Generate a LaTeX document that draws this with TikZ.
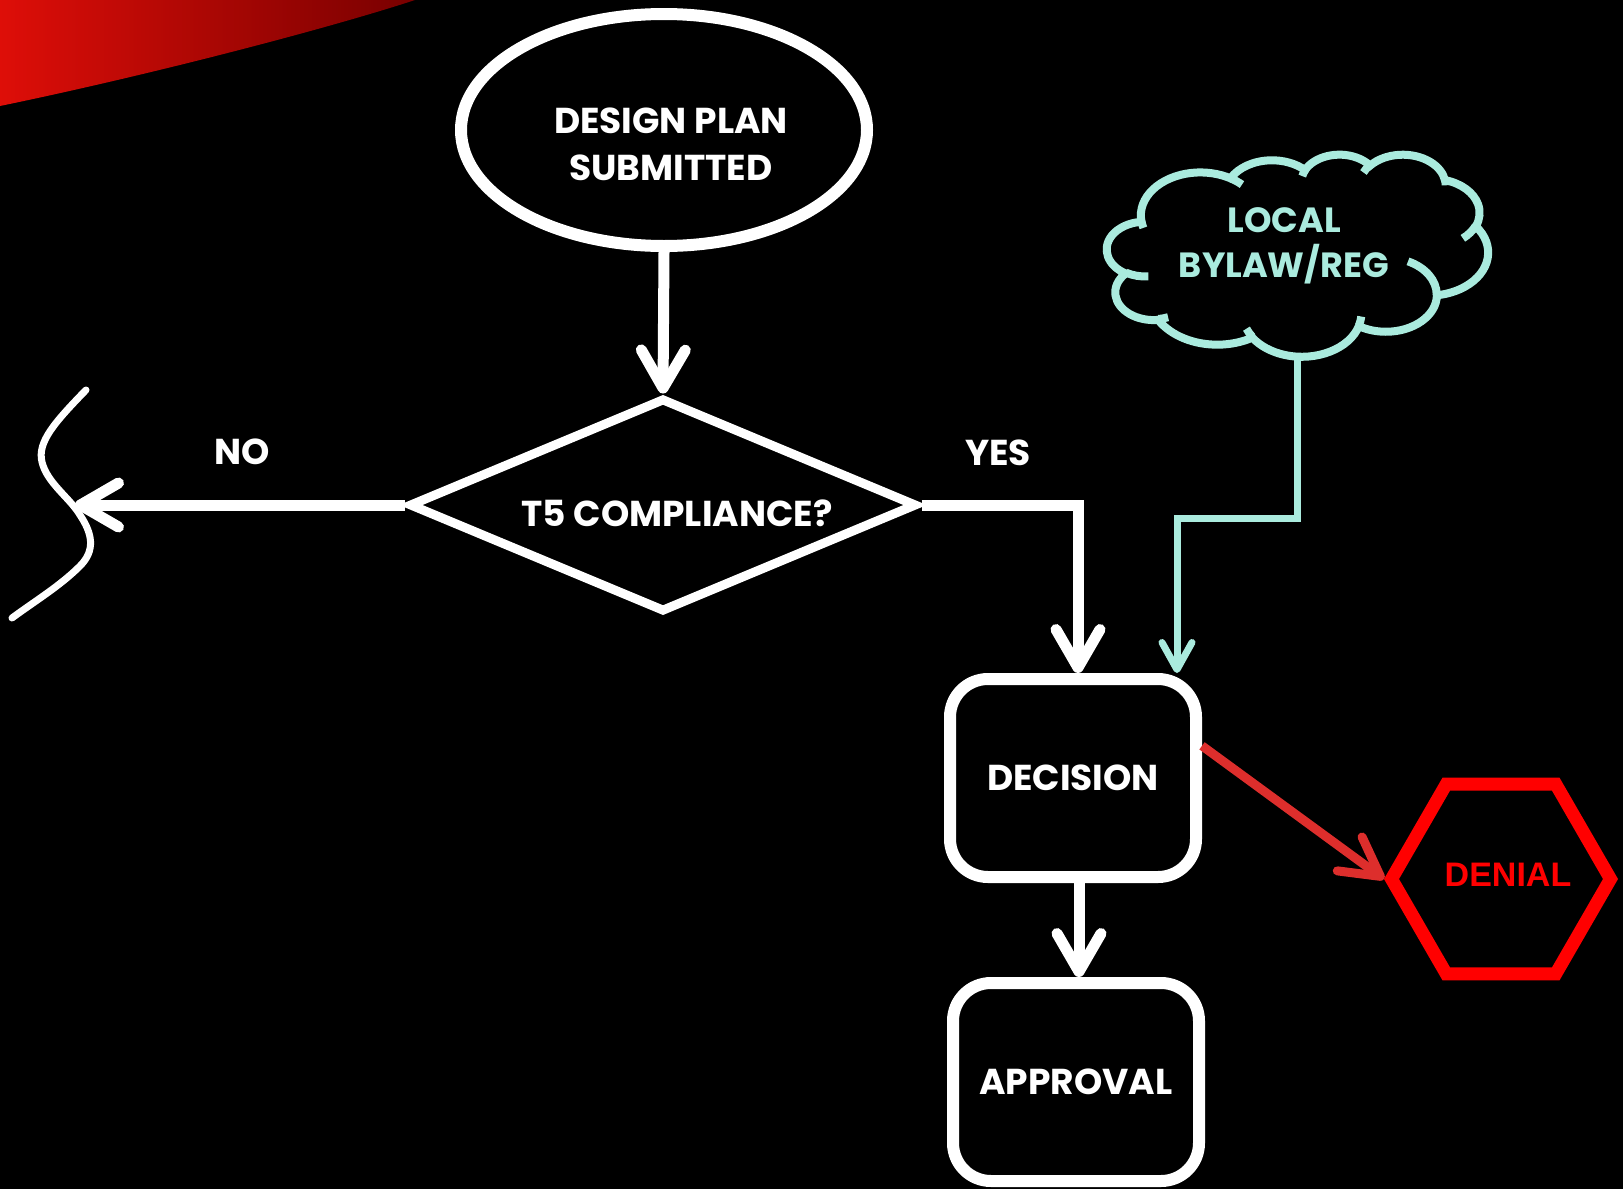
\documentclass[tikz,border=0pt]{standalone}
\usepackage{fontspec}
\setmainfont{Poppins}
\newfontfamily\denialfont{Liberation Sans}
\usetikzlibrary{arrows.meta,shapes.geometric,calc}

\definecolor{lawteal}{RGB}{170,235,222}
\definecolor{denyred}{RGB}{221,46,44}
\definecolor{hexred}{RGB}{255,0,0}
\definecolor{swooshA}{RGB}{222,14,8}
\definecolor{swooshB}{RGB}{120,0,0}

\tikzset{
  lbl/.style={text=white, inner sep=0pt, align=center, font=\bfseries\fontsize{36}{47}\selectfont},
  startshape/.style={ellipse, draw=white, line width=12pt, minimum width=406pt, minimum height=232pt, inner sep=0pt},
  decshape/.style={diamond, draw=white, line width=9pt, minimum width=508pt, minimum height=214pt, inner sep=0pt},
  boxshape/.style={rectangle, draw=white, line width=12pt, rounded corners=38pt, minimum width=246pt, minimum height=198pt, inner sep=0pt, text=white, font=\bfseries\fontsize{36}{47}\selectfont},
  hexshape/.style={regular polygon, regular polygon sides=6, draw=hexred, line width=13pt, minimum size=219pt, inner sep=0pt},
  flow/.style={draw=white, line width=11pt, -{Straight Barb[length=38pt, width=44pt, round]}},
  lawflow/.style={draw=lawteal, line width=7pt, -{Straight Barb[length=27pt, width=30pt, round]}},
  denyflow/.style={draw=denyred, line width=9pt, -{Straight Barb[length=38pt, width=42pt, round]}},
  cloudline/.style={draw=lawteal, line width=8pt},
}

\begin{document}
\begin{tikzpicture}[x=1pt, y=-1pt]
% canvas
\fill[black] (0,0) rectangle (1623,1189);
\useasboundingbox (0,0) rectangle (1623,1189);

% red swoosh in the corner
\shade[left color=swooshA, right color=swooshB]
  (0,0) -- (415,0) .. controls (330,28) and (150,75) .. (0,106) -- cycle;

% shapes
\node[startshape] (start) at (664,130) {};
\node[lbl] (start-t) at (671,144) {DESIGN PLAN\\SUBMITTED};

\node[decshape] (dia) at (663,505) {};
\node[lbl] (dia-t) at (677,513) {T5 COMPLIANCE?};

\node[boxshape] (dec) at (1073,778) {DECISION};
\node[boxshape] (app) at (1076,1082) {APPROVAL};

\node[hexshape] (den) at (1501,879) {};
\node[text=hexred, inner sep=0pt, font=\denialfont\bfseries\fontsize{34}{40}\selectfont] (den-t) at (1508,875) {DENIAL};

% cloud outline (arcs given by visual angles, converted to parametric ones)
\begin{scope}[shift={(1107,154)}, x=0.035278pt, y=-0.018704pt]
  \draw[cloudline] (975,3592.5)
    \foreach \rx/\ry/\sa/\sw in {
      1688.25/2297.5/-190.4875/123.7805,
      1333.25/1816.75/-144.1024/89.9452,
      1091.25/1486.25/-145.8079/99.7230,
      1214.25/1648.75/-130.9861/117.2417,
      1333.25/1818.25/-78.7089/109.0269,
      1693.75/2305/-46.2673/130.2690,
      1446.25/1966.75/0.6250/114.0333,
      1688/2303.75/22.4516/115.1726,
      1930/2635.75/66.2426/75.7110,
      1090/1479.5/-274.9421/146.7356,
      1086.25/1486.25/-246.8285/152.5189}
    { arc[start angle={atan2(\rx*sin(\sa),\ry*cos(\sa))},
          delta angle={mod(atan2(\rx*sin(\sa+\sw),\ry*cos(\sa+\sw))-atan2(\rx*sin(\sa),\ry*cos(\sa))+720,360)},
          x radius=\rx, y radius=\ry] } -- cycle;
  \foreach \px/\py/\rx/\ry/\sa/\sw in {
      1173.25/6544.25/1086.25/1486.25/86.7420/26.4295,
      1732/8724.75/1090/1479.5/73.6105/11.4475,
      4119.5/9772.5/1688/2303.75/137.6242/14.0811,
      7206.75/8687.75/1688/2303.75/6.4533/15.9984,
      8532.25/5738.5/1446.25/1966.75/-70.2924/70.9174,
      10449.5/3838.5/1333.25/1818.25/30.3180/27.7515,
      9581/1356.5/1214.25/1648.75/-13.7443/14.8589,
      7269.5/988/1214.25/1648.75/-149.1815/18.1954,
      5535.25/1180/1091.25/1486.25/-163.4943/17.6864,
      3500/1298/1688.25/2297.5/-66.7070/12.3194,
      1031.75/3947.25/1688.25/2297.5/157.6544/11.8582}
  { \draw[cloudline] (\px,\py)
      arc[start angle={atan2(\rx*sin(\sa),\ry*cos(\sa))},
          delta angle={mod(atan2(\rx*sin(\sa+\sw),\ry*cos(\sa+\sw))-atan2(\rx*sin(\sa),\ry*cos(\sa))+720,360)},
          x radius=\rx, y radius=\ry]; }
\end{scope}
\coordinate (law-b) at (1297,356);
\node[lbl, text=lawteal, font=\bfseries\fontsize{35}{45}\selectfont] (law) at (1284,246) {LOCAL\\BYLAW/REG};

% branch labels
\node[lbl] (no) at (242,452) {NO};
\node[lbl] (yes) at (998,453) {YES};

% boundary stroke on the left, where the NO branch stops
\coordinate (no-end) at (75,505);
\draw[white, line width=7pt, line cap=round]
  (86,390) .. controls (55,422) and (37,442) .. (42,462)
           .. controls (47,483) and (70,498) .. (80,515)
           .. controls (92,533) and (96,550) .. (80,566)
           .. controls (60,586) and (35,601) .. (12,618);

% connectors
\draw[flow] (start.south) -- (dia.north);
\draw[flow] (dia.west) -- (no-end);
\draw[flow] (dia.east) -| ([xshift=5pt]dec.north);
\draw[lawflow] (law-b) -- ++(0,162) -| ([xshift=104pt]dec.north);
\draw[flow] ([xshift=6pt]dec.south) -- ([xshift=6pt]dec.south |- app.north);
\draw[denyflow] (dec.14) -- (den.west);
\end{tikzpicture}
\end{document}
